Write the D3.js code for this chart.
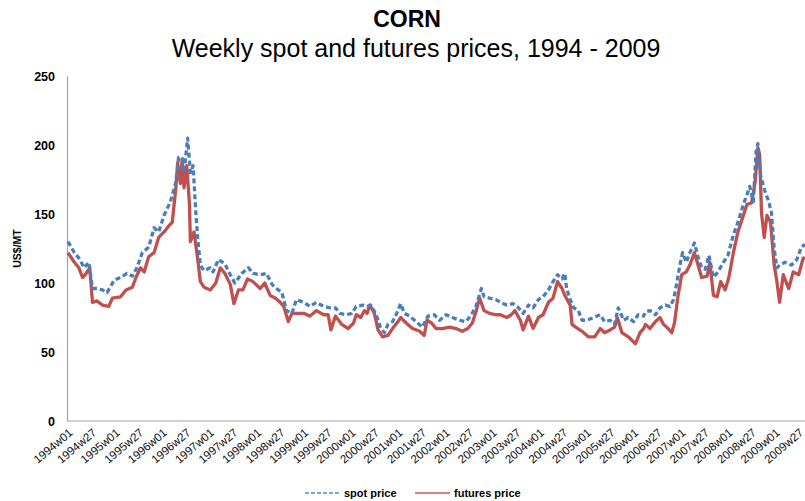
<!DOCTYPE html>
<html>
<head>
<meta charset="utf-8">
<script src="https://cdn.jsdelivr.net/npm/d3@7/dist/d3.min.js"></script>
<style>
  html, body { margin: 0; padding: 0; background: #fff; }
  svg { display: block; }
</style>
</head>
<body>
<svg id="chart" width="805" height="501"></svg>
<script>
// ---------------- DATA ----------------
const titleText = "CORN";
const subtitleText = "Weekly spot and futures prices, 1994 - 2009";
const yAxisTitle = "US$/MT";
const yTicks = [0, 50, 100, 150, 200, 250];
const xTickLabels = [
  "1994w01","1994w27","1995w01","1995w27","1996w01","1996w27","1997w01","1997w27",
  "1998w01","1998w27","1999w01","1999w27","2000w01","2000w27","2001w01","2001w27",
  "2002w01","2002w27","2003w01","2003w27","2004w01","2004w27","2005w01","2005w27",
  "2006w01","2006w27","2007w01","2007w27","2008w01","2008w27","2009w01","2009w27"
];
const seriesNames = ["spot price", "futures price"];

// weeks counted from 1994w01
const spotWeeks = [0,7,12,18,23,27,32,38,43,51,58,65,71,76,82,89,95,100,106,113,119,122,126,128,132,135,138,141,143,146,150,
  157,160,166,173,179,184,192,199,204,212,219,225,230,236,241,247,252,260,267,274,282,289,295,300,307,313,
  318,325,330,334,340,345,349,353,358,362,367,371,377,384,391,397,404,410,417,424,432,439,445,450,456,459,465,472,
  477,484,491,497,502,508,513,519,524,530,535,540,545,548,550,554,558,563,567,572,580,587,592,598,603,607,613,618,624,629,635,
  637,642,648,653,659,664,668,671,675,678,682,686,691,695,699,703,707,712,717,723,728,734,739,745,749,752,756,759,761,764,769,773,776,779,782,785,791,798,804,809,813];
const spotPrice = [130,122,118,111,115,96,96,95,93,102,104,107,105,111,122,126,140,137,149,159,173,191,190,180,205,180,185,151,133,113,109,
  111,108,117,114,106,100,107,111,107,106,107,99,96,93,80,78,88,86,83,86,83,82,82,78,77,78,
  83,84,83,84,77,67,64,70,72,77,85,78,76,72,68,76,77,73,77,75,73,72,77,83,96,90,89,88,
  86,84,85,82,78,84,82,88,90,95,101,106,103,107,96,88,82,80,73,73,75,77,72,73,70,82,73,75,72,77,76,
  79,80,77,82,84,83,88,98,113,122,115,122,129,119,111,110,120,104,108,115,120,135,144,157,164,170,159,195,201,178,166,159,151,125,111,113,115,113,117,126,128];

const futuresWeeks = [0,7,12,16,19,24,27,32,38,45,49,58,64,71,75,80,84,89,95,100,106,112,115,119,121,124,126,128,131,134,135,139,143,146,150,
  157,163,168,173,179,183,188,193,198,204,212,217,223,229,234,238,243,247,252,260,267,274,282,287,290,295,302,309,315,
  318,323,327,330,333,338,342,347,353,358,364,367,373,380,388,393,396,401,406,413,421,428,435,441,446,450,454,459,465,472,
  477,484,489,493,499,502,508,513,519,524,530,535,540,545,548,554,556,560,567,574,581,587,592,598,603,606,611,618,626,631,635,
  637,642,648,653,657,662,666,669,673,677,682,686,691,695,699,705,708,712,716,720,725,729,734,739,745,749,754,758,761,763,765,768,771,775,779,782,785,789,795,800,806,811,813];
const futuresPrice = [122,115,111,104,106,111,86,87,84,83,89,90,95,97,104,111,108,119,122,133,137,142,144,169,187,172,190,169,185,157,130,137,118,101,97,
  95,100,111,107,99,85,95,95,103,101,96,100,91,89,86,83,72,78,78,78,76,80,77,77,66,76,70,67,71,
  77,75,80,78,84,78,66,61,62,67,72,75,71,67,65,62,73,71,67,67,68,67,65,67,71,79,89,80,78,77,
  77,75,77,80,73,66,76,67,75,77,86,89,101,96,91,84,70,68,65,61,61,67,64,66,68,75,64,61,56,64,67,
  70,67,72,75,70,67,64,71,91,106,108,113,122,113,104,105,115,91,90,101,95,104,122,137,149,157,158,173,198,193,151,133,149,144,113,101,86,106,96,108,106,118,118];

// ---------------- LAYOUT ----------------
const svg = d3.select("#chart");
const plot = { left: 67, right: 805, top: 76, bottom: 421 };
const maxWeek = 813;

const x = d3.scaleLinear().domain([0, maxWeek]).range([plot.left + 1, plot.right]);
const y = d3.scaleLinear().domain([0, 250]).range([plot.bottom, plot.top]);

const labelWeek = s => (+s.slice(0, 4) - 1994) * 52 + (+s.slice(5) - 1);

const blue = "#4a7ebb";
const red = "#c0504d";

// Titles
svg.append("text").attr("x", 407).attr("y", 27).attr("text-anchor", "middle")
  .attr("font-family", "Liberation Sans, Arial, sans-serif").attr("font-weight", "bold")
  .attr("font-size", 23).attr("fill", "#000").text(titleText);
svg.append("text").attr("x", 416).attr("y", 57).attr("text-anchor", "middle")
  .attr("font-family", "Liberation Sans, Arial, sans-serif")
  .attr("font-size", 25).attr("fill", "#000").text(subtitleText);

// Y axis
const yAxis = d3.axisLeft(y).tickValues(yTicks).tickSize(0).tickPadding(12).tickFormat(d3.format("d"));
const gy = svg.append("g").attr("transform", `translate(${plot.left},0)`).call(yAxis);
gy.select(".domain").attr("stroke", "#a6a6a6").attr("stroke-width", 1.2);
gy.selectAll("text").attr("font-family", "Liberation Sans, Arial, sans-serif")
  .attr("font-weight", "bold").attr("font-size", 12.5).attr("fill", "#000");

svg.append("text").attr("transform", `translate(21,${(plot.top + plot.bottom) / 2}) rotate(-90)`)
  .attr("text-anchor", "middle").attr("font-family", "Liberation Sans, Arial, sans-serif")
  .attr("font-weight", "bold").attr("font-size", 10.5).attr("fill", "#000").text(yAxisTitle);

// X axis
const xAxis = d3.axisBottom(x).tickValues(xTickLabels.map(labelWeek)).tickSize(0)
  .tickFormat((d, i) => xTickLabels[i]);
const gx = svg.append("g").attr("transform", `translate(0,${plot.bottom})`).call(xAxis);
gx.select(".domain").attr("stroke", "#a6a6a6").attr("stroke-width", 1.2)
  .attr("d", `M${plot.left},0H${plot.right}`);
gx.selectAll("text")
  .attr("font-family", "Liberation Sans, Arial, sans-serif").attr("font-size", 11.5).attr("fill", "#111")
  .attr("text-anchor", "end").attr("dy", null).attr("y", null)
  .attr("transform", "translate(5,13) rotate(-40)");

// Lines
const spotData = spotWeeks.map((w, i) => ({ w, v: spotPrice[i] }));
const futData = futuresWeeks.map((w, i) => ({ w, v: futuresPrice[i] }));
const line = d3.line().x(d => x(d.w)).y(d => y(d.v));

svg.append("path").datum(futData).attr("d", line).attr("fill", "none")
  .attr("stroke", red).attr("stroke-width", 3.3).attr("stroke-linejoin", "round");
svg.append("path").datum(spotData).attr("d", line).attr("fill", "none")
  .attr("stroke", blue).attr("stroke-width", 3.3).attr("stroke-dasharray", "5,3").attr("stroke-linejoin", "round");

// Legend
const leg = svg.append("g").attr("font-family", "Liberation Sans, Arial, sans-serif")
  .attr("font-weight", "bold").attr("font-size", 11);
const legItems = [
  { name: seriesNames[0], color: blue, dash: "4,2", x0: 305 },
  { name: seriesNames[1], color: red, dash: null, x0: 415 }
];
legItems.forEach(it => {
  leg.append("line").attr("x1", it.x0).attr("x2", it.x0 + 35).attr("y1", 493).attr("y2", 493)
    .attr("stroke", it.color).attr("stroke-width", 2).attr("stroke-opacity", 0.7)
    .attr("stroke-dasharray", it.dash);
  leg.append("text").attr("x", it.x0 + 39).attr("y", 497).attr("fill", "#000").text(it.name);
});
</script>
</body>
</html>
